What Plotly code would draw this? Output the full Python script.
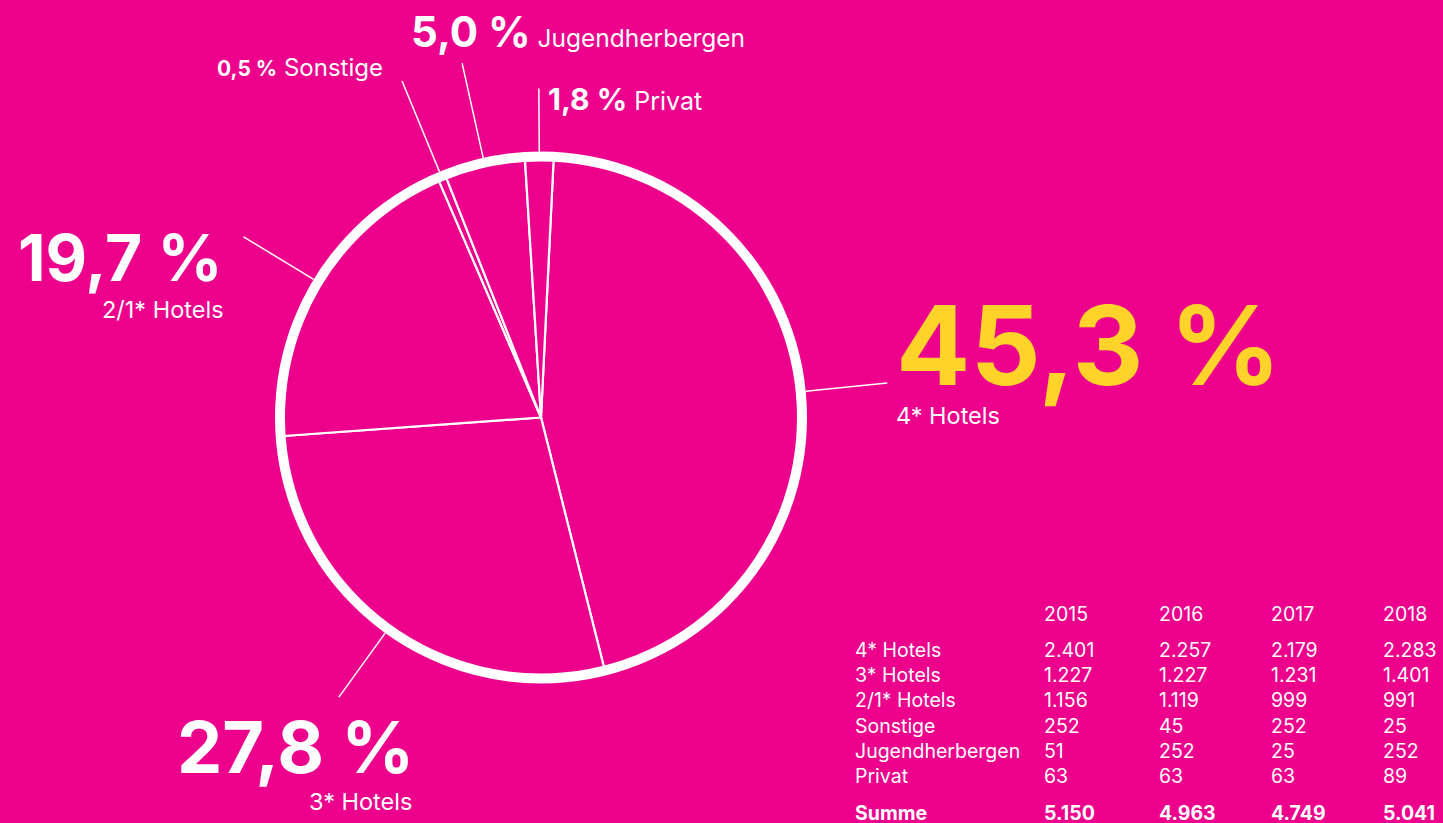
import math
import plotly.graph_objects as go

# ---------------- data ----------------
categories = ["4* Hotels", "3* Hotels", "2/1* Hotels", "Sonstige", "Jugendherbergen", "Privat"]
years = ["2015", "2016", "2017", "2018"]
v2015 = [2401, 1227, 1156, 252, 51, 63]
v2016 = [2257, 1227, 1119, 45, 252, 63]
v2017 = [2179, 1231, 999, 252, 25, 63]
v2018 = [2283, 1401, 991, 25, 252, 89]
pie_values = v2018
sum_label = "Summe"

# ---------------- style / layout ----------------
W, H = 1443, 823
BG = "#EC008C"
YELLOW = "#FFD32A"
WHITE = "#FFFFFF"
FONT = "Inter"

CX, CY = 541, 417.5      # pie centre (px)
R_PIE = 258              # pie radius (px)
R_RING = 261             # centre line of thick ring
RING_W = 10
ROTATION = 2.8

def de_int(n):
    return f"{n:,}".replace(",", ".")

def de_pct(v, total):
    return f"{v / total * 100:.1f}".replace(".", ",") + " %"

total = sum(pie_values)
pcts = [de_pct(v, total) for v in pie_values]

fig = go.Figure()
fig.add_trace(go.Pie(
    values=pie_values,
    labels=categories,
    sort=False,
    direction="clockwise",
    rotation=ROTATION,
    textinfo="none",
    hoverinfo="label+percent",
    showlegend=False,
    marker=dict(colors=[BG] * len(pie_values), line=dict(color=WHITE, width=2.2)),
    domain=dict(x=[(CX - R_PIE) / W, (CX + R_PIE) / W],
                y=[1 - (CY + R_PIE) / H, 1 - (CY - R_PIE) / H]),
))

shapes = [dict(type="circle", xref="x", yref="y",
               x0=CX - R_RING, x1=CX + R_RING, y0=CY - R_RING, y1=CY + R_RING,
               line=dict(color=WHITE, width=RING_W), fillcolor="rgba(0,0,0,0)", layer="above")]

# leader lines from slice mid-angles
leader_len = [82, 79, 82, 98, 97, 63]
r_start = R_RING + RING_W / 2
cum = 0
for v, L in zip(pie_values, leader_len):
    mid = math.radians(ROTATION + (cum + v / 2) / total * 360)
    cum += v
    sx, sy = CX + r_start * math.sin(mid), CY - r_start * math.cos(mid)
    ex, ey = CX + (r_start + L) * math.sin(mid), CY - (r_start + L) * math.cos(mid)
    shapes.append(dict(type="line", xref="x", yref="y", x0=sx, y0=sy, x1=ex, y1=ey,
                       line=dict(color=WHITE, width=1.5)))

annotations = []

def ann(text, x, y, size, color=WHITE, xanchor="left", bold=False):
    f = dict(family=FONT, size=size, color=color)
    annotations.append(dict(text=(f"<b>{text}</b>" if bold else text), x=x, y=y,
                            xref="x", yref="y", xanchor=xanchor, yanchor="middle",
                            showarrow=False, font=f))

# 4* Hotels
ann(pcts[0], 894, 345, 110, color=YELLOW, bold=True)
ann(categories[0], 894, 415, 23.5)
# 3* Hotels
ann(pcts[1], 416, 746, 72, bold=True, xanchor="right")
ann(categories[1], 414, 801, 23.5, xanchor="right")
# 2/1* Hotels
ann(pcts[2], 224, 257, 64, bold=True, xanchor="right")
ann(categories[2], 226, 309, 23.5, xanchor="right")
# Sonstige
ann(f"<span style='font-size:21px'><b>{pcts[3]}</b></span> {categories[3]}", 215, 67, 24)
# Jugendherbergen
ann(f"<span style='font-size:42px'><b>{pcts[4]}</b></span> {categories[4]}", 409, 31, 24.5)
# Privat
ann(f"<span style='font-size:30px'><b>{pcts[5]}</b></span> {categories[5]}", 546, 99, 25)

# ---------------- table ----------------
col_x = [853, 1042, 1157, 1269, 1381]
header_y = 614
row_y = [650, 675, 700, 726, 751, 776]
sum_y = 813
TS = 19.5
for yr, x in zip(years, col_x[1:]):
    ann(yr, x, header_y, TS)
cols = [v2015, v2016, v2017, v2018]
for i, cat in enumerate(categories):
    ann(cat, col_x[0], row_y[i], TS)
    for c, x in zip(cols, col_x[1:]):
        ann(de_int(c[i]), x, row_y[i], TS)
ann(sum_label, col_x[0], sum_y, TS, bold=True)
for c, x in zip(cols, col_x[1:]):
    ann(de_int(sum(c)), x, sum_y, TS, bold=True)

fig.update_layout(
    width=W, height=H,
    margin=dict(l=0, r=0, t=0, b=0),
    paper_bgcolor=BG, plot_bgcolor=BG,
    xaxis=dict(range=[0, W], visible=False, fixedrange=True),
    yaxis=dict(range=[H, 0], visible=False, fixedrange=True),
    shapes=shapes, annotations=annotations,
    font=dict(family=FONT, color=WHITE),
)
post = ("document.body.style.margin='0';document.body.style.padding='0';"
        "document.body.style.overflow='hidden';"
        f"document.body.style.background='{BG}';")
fig.write_html("out.html", config={"displayModeBar": False}, post_script=post)
